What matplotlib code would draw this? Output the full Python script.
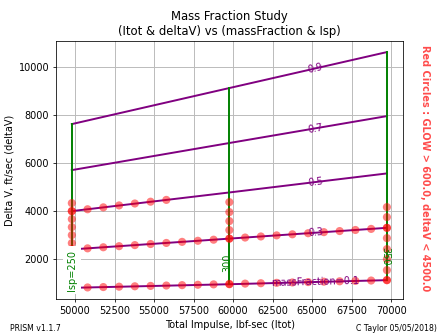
import numpy as np
import matplotlib
matplotlib.use("Agg")
import matplotlib.pyplot as plt

# carpet plot data
isp_values = [250, 300, 350]
itot_isp = [49800, 59760, 69720]           # Itot at each Isp line
mass_fractions = [0.1, 0.3, 0.5, 0.7, 0.9]
# deltaV at Isp = 250, 300, 350 for each massFraction
dv_mf01 = [817, 967, 1137]
dv_mf03 = [2417, 2867, 3317]
dv_mf05 = [4013, 4790, 5583]
dv_mf07 = [5721, 6850, 7971]
dv_mf09 = [7638, 9140, 10638]

# Itot of the 21 Isp grid points (Isp 250..350 step 5)
itot_grid = [49800, 50796, 51792, 52788, 53784, 54780, 55776, 56772, 57768,
             58764, 59760, 60756, 61752, 62748, 63744, 64740, 65736, 66732,
             67728, 68724, 69720]

# red circles (GLOW > 600, deltaV < 4500) along massFraction lines
dots_mf01 = [817, 833, 849, 865, 881, 897, 913, 929, 945, 961, 977, 993,
             1009, 1025, 1041, 1057, 1073, 1089, 1105, 1121, 1137]
dots_mf03 = [2417, 2462, 2507, 2552, 2597, 2642, 2687, 2732, 2777, 2822, 2867,
             2912, 2957, 3002, 3047, 3092, 3137, 3182, 3227, 3272, 3317]
dots_mf05 = [4013, 4090, 4170, 4250, 4330, 4405, 4480]
# red circles along Isp lines
dots_isp250 = [817, 1150, 1480, 1800, 2110, 2417, 2680, 3013, 3346, 3680, 4013, 4346]
dots_isp300 = [967, 2867, 3221, 3596, 3971, 4388]
dots_isp350 = [1137, 1554, 2012, 2430, 2888, 3317, 3763, 4180]

fig, ax = plt.subplots(figsize=(6.4, 4.8), dpi=70)
fig.subplots_adjust(left=0.125, right=0.9, top=0.878, bottom=0.11)

mf_rows = [dv_mf01, dv_mf03, dv_mf05, dv_mf07, dv_mf09]
for dv in mf_rows:
    ax.plot(itot_isp, dv, color='purple', lw=2, zorder=3)

cols = np.array(mf_rows).T
for i, x in enumerate(itot_isp):
    ax.plot([x] * len(mass_fractions), cols[i], color='green', lw=2, zorder=3)

dot_kw = dict(s=70, color='red', alpha=0.5, edgecolors='none', zorder=4)
ax.scatter(itot_grid, dots_mf01, **dot_kw)
ax.scatter(itot_grid, dots_mf03, **dot_kw)
ax.scatter(itot_grid[:len(dots_mf05)], dots_mf05, **dot_kw)
ax.scatter([itot_isp[0]] * len(dots_isp250), dots_isp250, **dot_kw)
ax.scatter([itot_isp[1]] * len(dots_isp300), dots_isp300, **dot_kw)
ax.scatter([itot_isp[2]] * len(dots_isp350), dots_isp350, **dot_kw)

ax.set_xlim(48800, 70750)
ax.set_ylim(350, 11100)
ax.grid(True, color='#bbbbbb', lw=1)
ax.set_axisbelow(True)

# massFraction labels, rotated along the lines
xl = 65200
for mf, dv in zip(mass_fractions, mf_rows):
    yl = np.interp(xl, itot_isp, dv)
    p0 = ax.transData.transform((itot_isp[0], dv[0]))
    p1 = ax.transData.transform((itot_isp[-1], dv[-1]))
    ang = np.degrees(np.arctan2(p1[1] - p0[1], p1[0] - p0[0]))
    txt = "massFraction=%.1f" % mf if mf == 0.1 else "%.1f" % mf
    ax.text(xl, yl, txt, color='purple', fontsize=10, rotation=ang,
            ha='center', va='center', rotation_mode='anchor', zorder=5)

# Isp labels
ax.text(itot_isp[0], 1550, "Isp=250", color='green', rotation=90,
        ha='center', va='center', zorder=6,
        bbox=dict(facecolor='white', edgecolor='none', pad=3.8))
ax.text(itot_isp[1] - 100, 1850, "300", color='green', rotation=90,
        ha='center', va='center', zorder=5)
ax.text(itot_isp[2] - 100, 2150, "350", color='green', rotation=270,
        ha='center', va='center', zorder=5)

ax.set_title("Mass Fraction Study\n(Itot & deltaV) vs (massFraction & Isp)")
ax.set_xlabel("Total Impulse, lbf-sec (Itot)")
ax.set_ylabel("Delta V, ft/sec (deltaV)")

fig.text(0.948, 0.5, "Red Circles : GLOW > 600.0, deltaV < 4500.0", color='red',
         alpha=0.7, fontweight='bold', rotation=270, ha='center', va='center')
fig.text(0.022, 0.01, "PRISM v1.1.7", fontsize=8, ha='left', va='bottom')
fig.text(0.976, 0.01, "C Taylor 05/05/2018)", fontsize=8, ha='right', va='bottom')

fig.savefig("out.png", dpi=70)
